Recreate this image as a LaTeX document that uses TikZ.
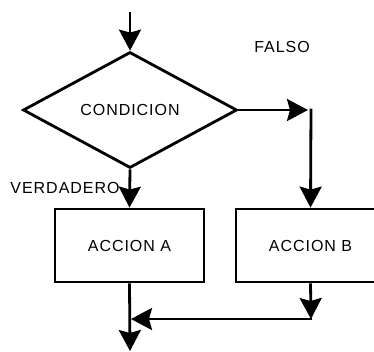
\documentclass[tikz,border=0pt]{standalone}
\usepackage{fontspec}
\setmainfont{Liberation Sans}[LetterSpace=6]
\usetikzlibrary{shapes.geometric,arrows.meta}

\begin{document}
\begin{tikzpicture}[x=1pt,y=-1pt,line width=2.8pt,
  lbl/.style={font=\fontsize{16}{19}\selectfont,inner sep=0pt},
  decision/.style={draw,diamond,minimum width=214pt,minimum height=116pt,inner sep=0pt,
    font=\fontsize{16}{19}\selectfont},
  actionbox/.style={draw,rectangle,minimum width=149pt,minimum height=73pt,inner sep=0pt,
    font=\fontsize{16}{19}\selectfont},
  flow/.style={-{Stealth[length=21pt,width=22pt,inset=3pt]}}]
  % page frame; box B runs past the right edge
  \clip (0,0) rectangle (374,351);
  \fill[white] (0,0) rectangle (374,351);

  % nodes
  \coordinate (start) at (130,12);
  \node[decision] (cond) at (130,110) {CONDICION};
  \node[actionbox] (A) at (129.5,245.5) {ACCION A};
  \node[actionbox] (B) at (310.5,245.5) {ACCION B};
  \node[lbl] (falso) at (282,47) {FALSO};
  \node[lbl] (verd) at (65,188) {VERDADERO};

  % junction points
  \coordinate (fr) at (311,108.6);
  \coordinate (bj) at (311,319);
  \coordinate (aj) at (130,319);
  \coordinate (out) at (130,351);

  % connectors
  \draw[flow] (start) -- (cond.north);
  \draw[flow] (cond.south) -- (A.north);
  \draw[flow,shorten >=3pt] (cond.east) -- (fr |- cond.east);
  \draw[flow] (fr) -- (B.north);
  \draw[flow] (B.south) -- (bj);
  \draw[flow,shorten >=1pt] ([xshift=1.4pt]bj) -- (aj);
  \draw[flow] (A.south) -- (out);
\end{tikzpicture}
\end{document}
